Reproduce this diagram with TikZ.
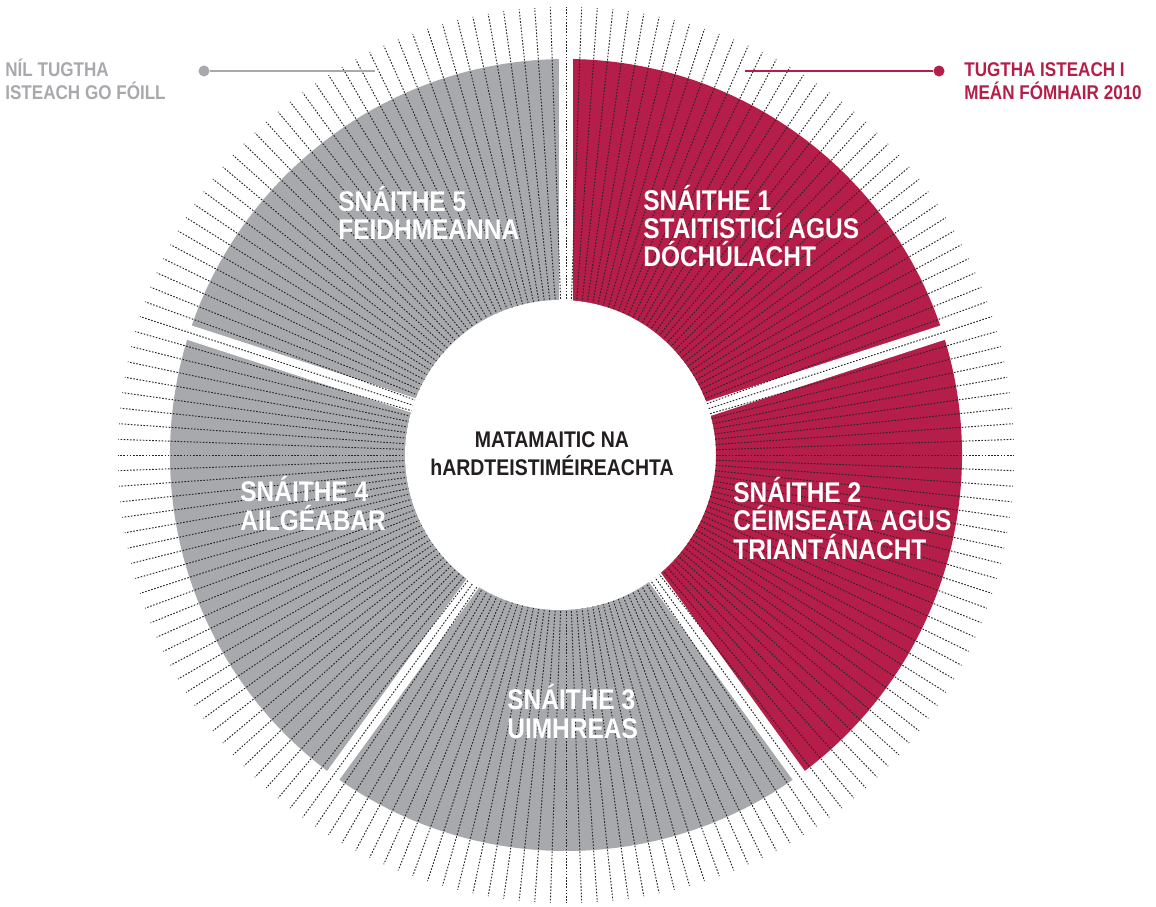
\documentclass[tikz,border=0pt]{standalone}
\usepackage{fontspec}
\setmainfont[FakeStretch=0.86]{Liberation Sans}

\definecolor{strandred}{RGB}{180,30,72}
\definecolor{strandgrey}{RGB}{167,169,172}
\definecolor{inkblack}{RGB}{35,31,32}

\tikzstyle{spoke} = [draw=black!85, line width=0.55pt, dash pattern=on 0.9pt off 0.9pt]
\tikzstyle{gap} = [draw=white, line width=8.5pt]
\tikzstyle{hub} = [circle, fill=white, minimum size=6.2cm, inner sep=0pt]
\tikzstyle{strand} = [text=white, font=\bfseries\fontsize{16.2}{16.1}\selectfont, align=left, anchor=base west, inner sep=0pt]
\tikzstyle{centre} = [text=inkblack, font=\bfseries\fontsize{12.9}{15.9}\selectfont, align=center, anchor=base, inner sep=0pt]
\tikzstyle{key} = [font=\bfseries\fontsize{11.3}{13.1}\selectfont, align=left, anchor=base west, inner sep=0pt]
\tikzstyle{pin} = [circle, minimum size=6.3pt, inner sep=0pt]

\begin{document}
\begin{tikzpicture}[x=0.02cm, y=0.02cm]
\useasboundingbox (-566,455) rectangle (590,-451);

% the five strands
\foreach \a/\c in {90/strandred, 18/strandred, -54/strandgrey, -126/strandgrey, 162/strandgrey}
  \fill[\c] (\a:396) arc[start angle=\a, end angle=\a-72, radius=396]
    -- ({\a-72}:150) arc[start angle=\a-72, end angle=\a, radius=150] -- cycle;
\foreach \a in {90, 18, -54, -126, 162}
  \draw[gap] (0,0) -- (\a:400);

% spokes every 2 degrees
\foreach \i in {0,...,179}
  \draw[spoke] ({90-2*\i}:150) -- ({90-2*\i}:448);

\node[hub] (hub) at (-6,0) {};
\node[centre] (title) at (-14,-20) {MATAMAITIC NA\\hARDTEISTIMÉIREACHTA};

\node[strand] (s1) at (77,188) {SNÁITHE 1\\STAITISTICÍ AGUS\\DÓCHÚLACHT};
\node[strand] (s2) at (167,-104) {SNÁITHE 2\\CÉIMSEATA AGUS\\TRIANTÁNACHT};
\node[strand] (s3) at (-59,-283) {SNÁITHE 3\\UIMHREAS};
\node[strand] (s4) at (-326,-75) {SNÁITHE 4\\AILGÉABAR};
\node[strand] (s5) at (-228,215) {SNÁITHE 5\\FEIDHMEANNA};

% legend
\node[key, text=strandgrey] (notyet) at (-561,355) {NÍL TUGTHA\\ISTEACH GO FÓILL};
\node[pin, fill=strandgrey] (greydot) at (-362,384) {};
\coordinate (greyend) at (-191,384);
\draw[strandgrey, line width=1.4pt] (greydot) -- (greyend);

\node[key, text=strandred] (done) at (398,355) {TUGTHA ISTEACH I\\MEÁN FÓMHAIR 2010};
\node[pin, fill=strandred] (reddot) at (373,384) {};
\coordinate (redend) at (179,384);
\draw[strandred, line width=1.4pt] (reddot) -- (redend);
\end{tikzpicture}
\end{document}
